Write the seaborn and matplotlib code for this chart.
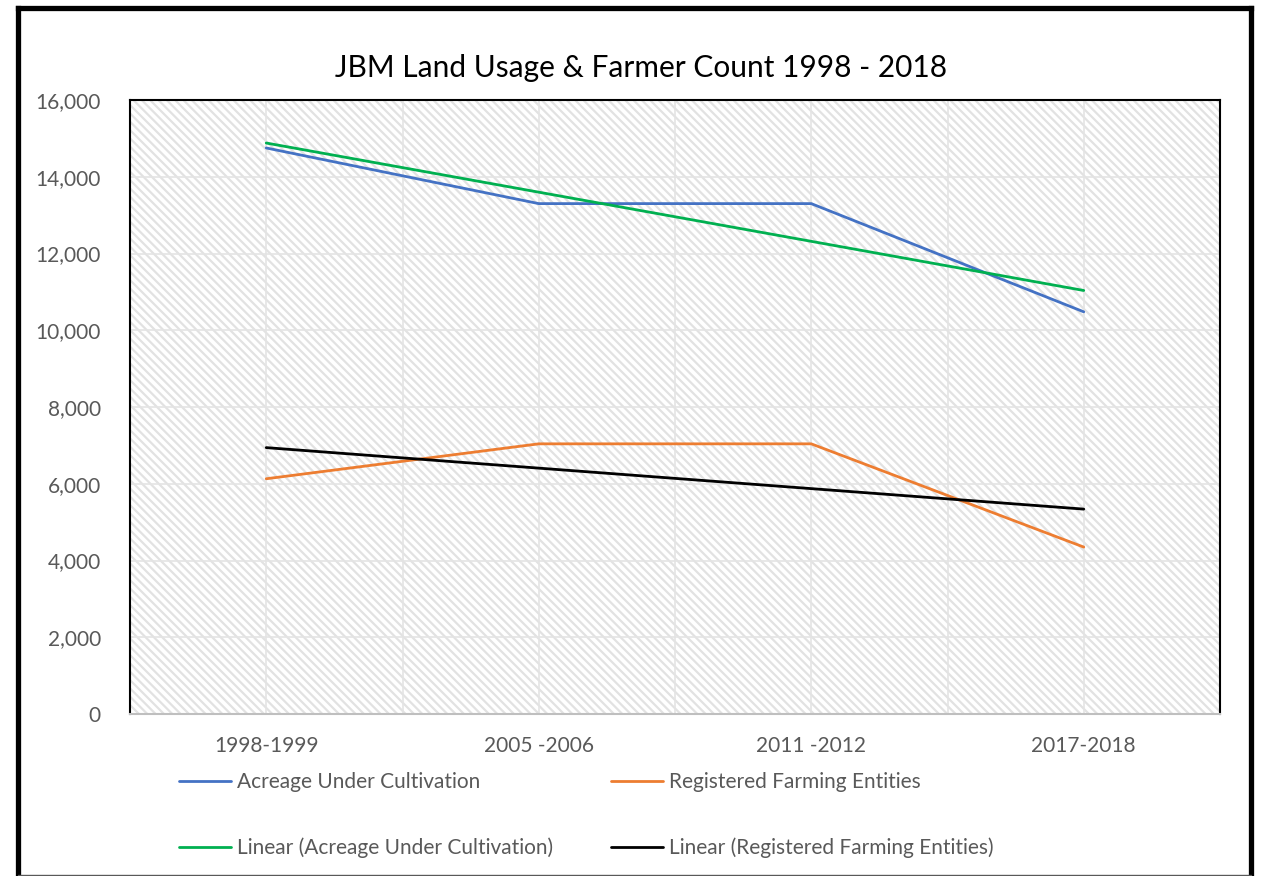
import numpy as np
import pandas as pd
import matplotlib
matplotlib.use("Agg")
import matplotlib.pyplot as plt
from matplotlib.patches import Rectangle
from matplotlib.lines import Line2D
import seaborn as sns

# Survey periods and series values
periods = ["1998-1999", "2005 -2006", "2011 -2012", "2017-2018"]
acreage = [14750, 13300, 13300, 10480]
entities = [6130, 7040, 7040, 4350]
y_ticks = [0, 2000, 4000, 6000, 8000, 10000, 12000, 14000, 16000]

series_names = ["Acreage Under Cultivation", "Registered Farming Entities"]
series_colors = {"Acreage Under Cultivation": "#4472C4",
                 "Registered Farming Entities": "#ED7D31"}
trend_colors = {"Acreage Under Cultivation": "#00B050",
                "Registered Farming Entities": "#000000"}

sns.set_style("white")
plt.rcParams["font.family"] = ["Lato", "DejaVu Sans"]
plt.rcParams["hatch.linewidth"] = 1.6

pos = np.arange(len(periods))
df = pd.DataFrame({
    "pos": np.concatenate([pos, pos]),
    "value": acreage + entities,
    "series": [series_names[0]] * len(pos) + [series_names[1]] * len(pos),
})

fig = plt.figure(figsize=(12.61, 8.76), dpi=100)
ax = fig.add_axes([130 / 1261, 1 - 714 / 876, 1090 / 1261, 614 / 876])

# Hatched plot-area background
ax.add_patch(Rectangle((0, 0), 1, 1, transform=ax.transAxes, facecolor="white",
                       edgecolor="#e2e2e2", linewidth=0, hatch="\\\\\\\\", zorder=0))

line_w = 2.0
sns.lineplot(data=df, x="pos", y="value", hue="series", palette=series_colors,
             linewidth=line_w, ax=ax, legend=False, zorder=3, errorbar=None)

# Linear trendlines
for name, vals in zip(series_names, [acreage, entities]):
    sns.regplot(x=pos, y=np.array(vals, dtype=float), ax=ax, scatter=False, ci=None,
                truncate=True, line_kws={"color": trend_colors[name],
                                         "linewidth": line_w, "zorder": 4})

ax.set_xlim(-0.5, len(periods) - 0.5)
ax.set_ylim(0, 16000)
ax.set_xticks(pos)
ax.set_xticklabels(periods)
ax.set_yticks(y_ticks)
ax.set_yticklabels([f"{v:,}" for v in y_ticks])
ax.set_xticks(np.arange(-0.5, len(periods), 1.0), minor=True)
ax.set_xlabel("")
ax.set_ylabel("")

ax.grid(True, axis="y", color="#e4e4e4", linewidth=1.2, zorder=1)
ax.grid(True, axis="x", which="both", color="#e4e4e4", linewidth=1.2, zorder=1)
ax.set_axisbelow(True)
ax.tick_params(axis="both", which="both", length=0, labelsize=15,
               labelcolor="#595959")
ax.tick_params(axis="x", pad=16)
ax.tick_params(axis="y", pad=21)

for side in ["left", "top", "right"]:
    ax.spines[side].set_visible(True)
    ax.spines[side].set_color("black")
    ax.spines[side].set_linewidth(1.5)
ax.spines["bottom"].set_color("#bfbfbf")
ax.spines["bottom"].set_linewidth(1.5)

fig.text(641 / 1261, 1 - 68 / 876, "JBM Land Usage & Farmer Count 1998 - 2018",
         ha="center", va="center", fontsize=21.5, color="black")

# Legend in two columns below the plot
def make_handle(color):
    return Line2D([], [], color=color, linewidth=line_w)

leg_kw = dict(frameon=False, fontsize=15, labelcolor="#595959", handlelength=2.5,
              handletextpad=0.3, labelspacing=2.2, borderaxespad=0, borderpad=0,
              loc="upper left")
fig.legend([make_handle(series_colors[series_names[0]]),
            make_handle(trend_colors[series_names[0]])],
           [series_names[0], f"Linear ({series_names[0]})"],
           bbox_to_anchor=(179 / 1261, 1 - 772 / 876), **leg_kw)
fig.legend([make_handle(series_colors[series_names[1]]),
            make_handle(trend_colors[series_names[1]])],
           [series_names[1], f"Linear ({series_names[1]})"],
           bbox_to_anchor=(611 / 1261, 1 - 772 / 876), **leg_kw)

# Chart frame
tf = fig.transFigure
frame_kw = dict(transform=tf, color="black", linewidth=3.8, solid_capstyle="projecting")
fig.add_artist(Line2D([17.5 / 1261, 17.5 / 1261], [0, 1 - 7.5 / 876], **frame_kw))
fig.add_artist(Line2D([17.5 / 1261, 1251 / 1261], [1 - 7.5 / 876, 1 - 7.5 / 876], **frame_kw))
fig.add_artist(Line2D([1251 / 1261, 1251 / 1261], [0, 1 - 7.5 / 876], **frame_kw))
fig.add_artist(Line2D([17.5 / 1261, 1251 / 1261], [1.5 / 876, 1.5 / 876],
                      transform=tf, color="#595959", linewidth=1.0))

fig.savefig("out.png", dpi=100)
